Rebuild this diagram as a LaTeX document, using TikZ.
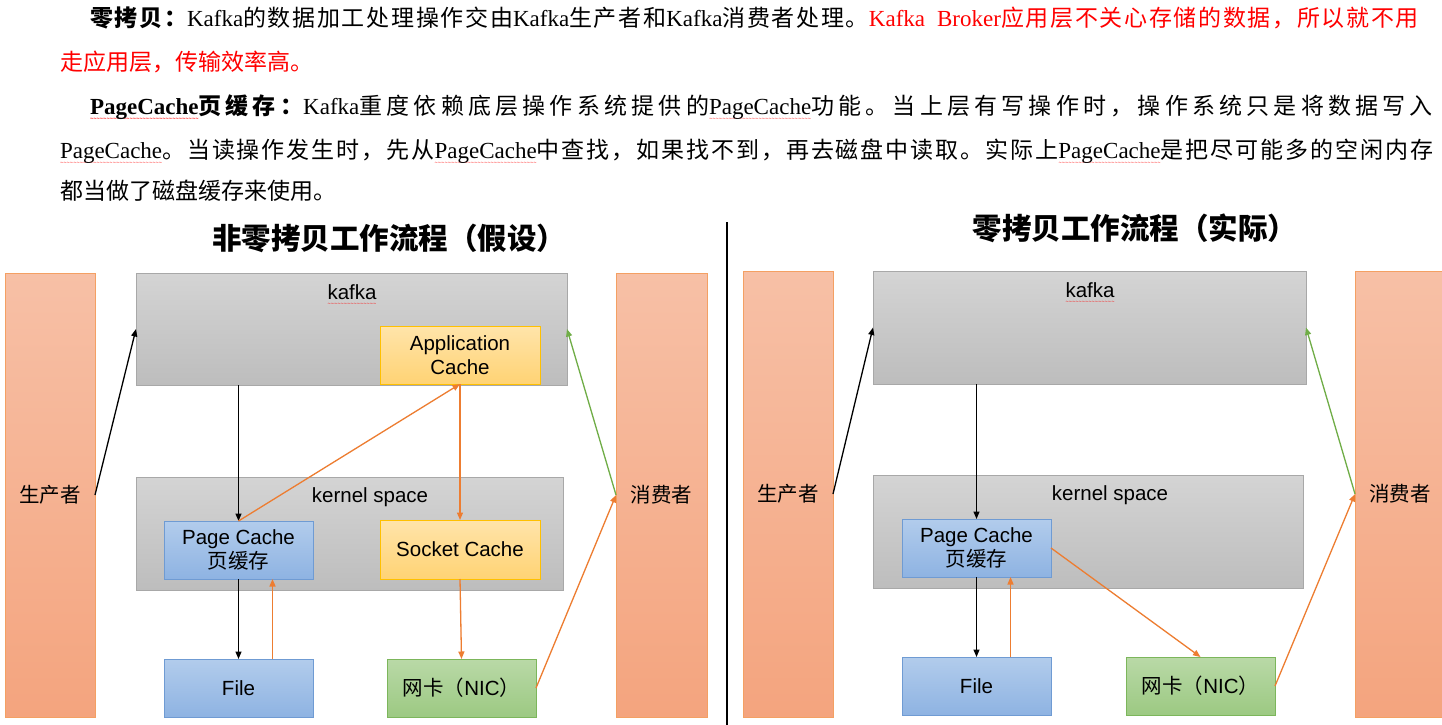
\documentclass[tikz,border=0pt]{standalone}
\usepackage{fontspec}
\setmainfont{Liberation Serif}
\newfontfamily\cjk{Noto Sans CJK SC}
\newfontfamily\sans{Liberation Sans}
\usetikzlibrary{arrows.meta}
\newXeTeXintercharclass\cjkcls
\newcount\cjkc
\cjkc="3000 \loop\XeTeXcharclass\cjkc=\cjkcls \ifnum\cjkc<"303F \advance\cjkc by 1 \repeat
\cjkc="4E00 \loop\XeTeXcharclass\cjkc=\cjkcls \ifnum\cjkc<"9FFF \advance\cjkc by 1 \repeat
\cjkc="FF00 \loop\XeTeXcharclass\cjkc=\cjkcls \ifnum\cjkc<"FFEF \advance\cjkc by 1 \repeat
\XeTeXinterchartoks\cjkcls\cjkcls={\hskip0pt plus 3pt\relax}
\XeTeXinterchartokenstate=1
\newcommand\C[1]{{\cjk #1}}
\definecolor{gT}{HTML}{D4D4D4}
\definecolor{gB}{HTML}{BDBDBD}
\definecolor{gD}{HTML}{A8A8A8}
\definecolor{oT}{HTML}{F7C0A6}
\definecolor{oB}{HTML}{F4A47E}
\definecolor{oD}{HTML}{F4A063}
\definecolor{bT}{HTML}{B2CCEC}
\definecolor{bB}{HTML}{8EB3E2}
\definecolor{bD}{HTML}{6F9BD3}
\definecolor{yT}{HTML}{FFE4AA}
\definecolor{yB}{HTML}{FFD374}
\definecolor{yD}{HTML}{FFC000}
\definecolor{nT}{HTML}{B9D9A7}
\definecolor{nB}{HTML}{9CC982}
\definecolor{nD}{HTML}{7CB65B}
\definecolor{orgA}{HTML}{ED7D31}
\definecolor{grnA}{HTML}{70AD47}
\definecolor{redT}{HTML}{FF0000}
\newsavebox\wavtmp
\newcommand\wavunit{\hbox{{\sans\fontsize{5.5}{5}\selectfont\color{red}\char"7E}}}
\newcommand\wav[1]{\leavevmode\sbox\wavtmp{#1}\rlap{\raisebox{-5.5pt}{\hbox to \wd\wavtmp{\xleaders\wavunit\hfil}}}\usebox\wavtmp}
\begin{document}
\begin{tikzpicture}[x=1pt,y=-1pt,
  every node/.style={inner sep=0pt, outer sep=0pt},
  txt/.style={font=\fontsize{23}{27}\selectfont, anchor=base west},
  ttl/.style={font=\bfseries\fontsize{29.5}{32}\selectfont},
  box/.style={draw, line width=0.9pt, anchor=north west, align=center, font=\sans\fontsize{20.5}{24}\selectfont},
  graybox/.style={box, top color=gT, bottom color=gB, draw=gD},
  bar/.style={box, top color=oT, bottom color=oB, draw=oD},
  bluebox/.style={box, top color=bT, bottom color=bB, draw=bD},
  yelbox/.style={box, top color=yT, bottom color=yB, draw=yD},
  grnbox/.style={box, top color=nT, bottom color=nB, draw=nD},
  lbl/.style={font=\sans\fontsize{20.5}{24}\selectfont},
  arr/.style={line width=1.3pt, -{Triangle[length=7.5pt,width=6pt]}},
  blk/.style={arr, draw=black},
  org/.style={arr, draw=orgA, fill=orgA},
  grn/.style={arr, draw=grnA, fill=grnA}]
\clip (0,0) rectangle (1442,725);
\fill[white] (0,0) rectangle (1442,725);
% ---------- paragraph text ----------
\node[txt] (l1) at (90,26.5) {\makebox[1329pt][s]{\textbf{\C{零拷贝：}}Kafka\C{的数据加工处理操作交由}Kafka\C{生产者和}Kafka\C{消费者处理。}\textcolor{redT}{Kafka\hspace{12pt}Broker\C{应用层不关心存储的数据，所以就不用}}}};
\node[txt] (l2) at (60,70.5) {\textcolor{redT}{\C{走应用层，传输效率高。}}};
\node[txt] (l3) at (90,114.5) {\makebox[1343pt][s]{\textbf{\wav{PageCache}\C{页缓存：}}Kafka\C{重度依赖底层操作系统提供的}\wav{PageCache}\C{功能。当上层有写操作时，操作系统只是将数据写入}}};
\node[txt] (l4) at (60,158.5) {\makebox[1373pt][s]{\wav{PageCache}\C{。当读操作发生时，先从}\wav{PageCache}\C{中查找，如果找不到，再去磁盘中读取。实际上}\wav{PageCache}\C{是把尽可能多的空闲内存}}};
\node[txt] (l5) at (60,199.5) {\C{都当做了磁盘缓存来使用。}};
% ---------- titles & divider ----------
\node[ttl] (tL) at (389,238) {\C{非零拷贝工作流程（假设）}};
\node[ttl] (tR) at (1135,228) {\C{零拷贝工作流程（实际）}};
\draw[line width=1.8pt] (727,222) -- (727,725);
% ---------- left diagram ----------
\node[bar, minimum width=90pt, minimum height=444pt] (prodL) at (5,273) {\C{生产者}};
\node[bar, minimum width=91pt, minimum height=444pt] (consL) at (616,273) {\C{消费者}};
\node[graybox, minimum width=431pt, minimum height=112pt] (kafkaL) at (136,273) {};
\node[lbl] (kafkaLt) at (352,295) {\wav{kafka}};
\node[yelbox, minimum width=160pt, minimum height=58pt] (appL) at (380,326) {Application\\Cache};
\node[graybox, minimum width=427pt, minimum height=113pt] (kernL) at (136,477) {};
\node[lbl] (kernLt) at (370,497) {kernel space};
\node[bluebox, minimum width=149pt, minimum height=58pt] (pcL) at (164,521) {Page Cache\\\C{页缓存}};
\node[yelbox, minimum width=160pt, minimum height=59pt] (sockL) at (380,520) {Socket Cache};
\node[bluebox, minimum width=149pt, minimum height=58pt] (fileL) at (164,659) {File};
\node[grnbox, minimum width=149pt, minimum height=58pt] (nicL) at (387,659) {\C{网卡（}NIC\C{）}};
\draw[blk] (prodL.east) -- (kafkaL.west);
\draw[blk] (kafkaL.south -| pcL.north) -- (pcL.north);
\draw[org] (pcL.north) -- (appL.south);
\draw[org] (appL.south) -- (sockL.north);
\draw[blk] (pcL.south) -- (fileL.north);
\draw[org] ([xshift=34pt]fileL.north) -- ([xshift=34pt]pcL.south);
\draw[org] (sockL.south) -- (nicL.north);
\draw[org] (nicL.east) -- (consL.west);
\draw[grn] (consL.west) -- (kafkaL.east);
% ---------- right diagram ----------
\node[bar, minimum width=90pt, minimum height=446pt] (prodR) at (743,271) {\C{生产者}};
\node[bar, minimum width=90pt, minimum height=446pt] (consR) at (1355,271) {\C{消费者}};
\node[graybox, minimum width=433pt, minimum height=113pt] (kafkaR) at (873,271) {};
\node[lbl] (kafkaRt) at (1090,293) {\wav{kafka}};
\node[graybox, minimum width=430pt, minimum height=113pt] (kernR) at (873,475) {};
\node[lbl] (kernRt) at (1110,495) {kernel space};
\node[bluebox, minimum width=149pt, minimum height=58pt] (pcR) at (902,519) {Page Cache\\\C{页缓存}};
\node[bluebox, minimum width=149pt, minimum height=58pt] (fileR) at (902,657) {File};
\node[grnbox, minimum width=149pt, minimum height=58pt] (nicR) at (1126,657) {\C{网卡（}NIC\C{）}};
\draw[blk] (prodR.east) -- (kafkaR.west);
\draw[blk] (kafkaR.south -| pcR.north) -- (pcR.north);
\draw[blk] (pcR.south) -- (fileR.north);
\draw[org] ([xshift=34pt]fileR.north) -- ([xshift=34pt]pcR.south);
\draw[org] (pcR.east) -- (nicR.north);
\draw[org] (nicR.east) -- (consR.west);
\draw[grn] (consR.west) -- (kafkaR.east);
\end{tikzpicture}
\end{document}
